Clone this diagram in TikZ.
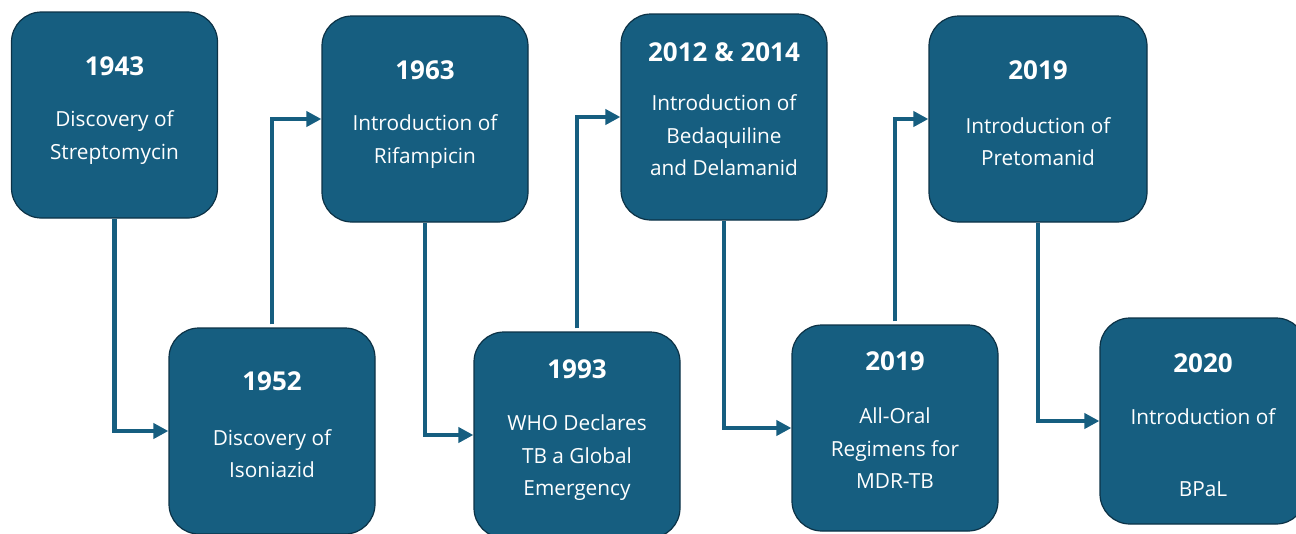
\documentclass[tikz,border=0pt]{standalone}
\usepackage{fontspec}
\setmainfont{Open Sans}
\usetikzlibrary{arrows.meta}
\definecolor{tealblue}{RGB}{22,94,128}
\definecolor{darkedge}{RGB}{12,50,70}
\tikzset{
  eventbox/.style={draw=darkedge, line width=1.2pt, fill=tealblue, rounded corners=30pt,
    minimum width=206pt, minimum height=206pt, inner sep=0pt},
  yearlabel/.style={text=white, font=\bfseries\fontsize{26}{30}\selectfont, inner sep=0pt},
  desclabel/.style={text=white, font=\fontsize{20.8}{32.5}\selectfont, align=center, inner sep=0pt},
  flowline/.style={draw=tealblue, line width=4.5pt, -{Triangle[length=15pt,width=15pt]}},
}
\begin{document}
\begin{tikzpicture}[x=1pt,y=-1pt]
\path[use as bounding box, clip] (0,0) rectangle (1296,533);

% boxes
\node[eventbox] (b1) at (114.5,115) {};
\node[eventbox] (b2) at (272,431) {};
\node[eventbox] (b3) at (425,119) {};
\node[eventbox] (b4) at (577,435) {};
\node[eventbox] (b5) at (724,117) {};
\node[eventbox] (b6) at (895,428) {};
\node[eventbox, minimum width=218pt] (b7) at (1038,119) {};
\node[eventbox] (b8) at (1203,421) {};

% years
\node[yearlabel] (y1) at ([yshift=-55pt]b1.north) {1943};
\node[yearlabel] (y2) at ([yshift=-54pt]b2.north) {1952};
\node[yearlabel] (y3) at ([yshift=-55pt]b3.north) {1963};
\node[yearlabel] (y4) at ([yshift=-38pt]b4.north) {1993};
\node[yearlabel] (y5) at ([yshift=-39pt]b5.north) {2012 \& 2014};
\node[yearlabel] (y6) at ([yshift=-37pt]b6.north) {2019};
\node[yearlabel] (y7) at ([yshift=-55pt]b7.north) {2019};
\node[yearlabel] (y8) at ([yshift=-46pt]b8.north) {2020};

% descriptions
\node[desclabel] (d1) at ([yshift=-126pt]b1.north) {Discovery of\\Streptomycin};
\node[desclabel] (d2) at ([yshift=-126pt]b2.north) {Discovery of\\Isoniazid};
\node[desclabel] (d3) at ([yshift=-126pt]b3.north) {Introduction of\\Rifampicin};
\node[desclabel] (d4) at ([yshift=-126.5pt]b4.north) {WHO Declares\\TB a Global\\Emergency};
\node[desclabel] (d5) at ([yshift=-122pt]b5.north) {Introduction of\\Bedaquiline\\and Delamanid};
\node[desclabel] (d6) at ([yshift=-124pt]b6.north) {All-Oral\\Regimens for\\MDR-TB};
\node[desclabel] (d7) at ([yshift=-126pt]b7.north) {Introduction of\\Pretomanid};
\node[desclabel] (d8) at ([yshift=-135pt]b8.north) {Introduction of\\[39.5pt]BPaL};

% connectors
\draw[flowline] (b1.south) |- (b2.west);
\draw[flowline, shorten <=3pt] (b2.north) |- (b3.west);
\draw[flowline] (b3.south) |- (b4.west);
\draw[flowline, shorten <=3pt] (b4.north) |- (b5.west);
\draw[flowline] (b5.south) |- (b6.west);
\draw[flowline, shorten <=3pt] (b6.north) |- (b7.west);
\draw[flowline] (b7.south) |- (b8.west);

\end{tikzpicture}
\end{document}
